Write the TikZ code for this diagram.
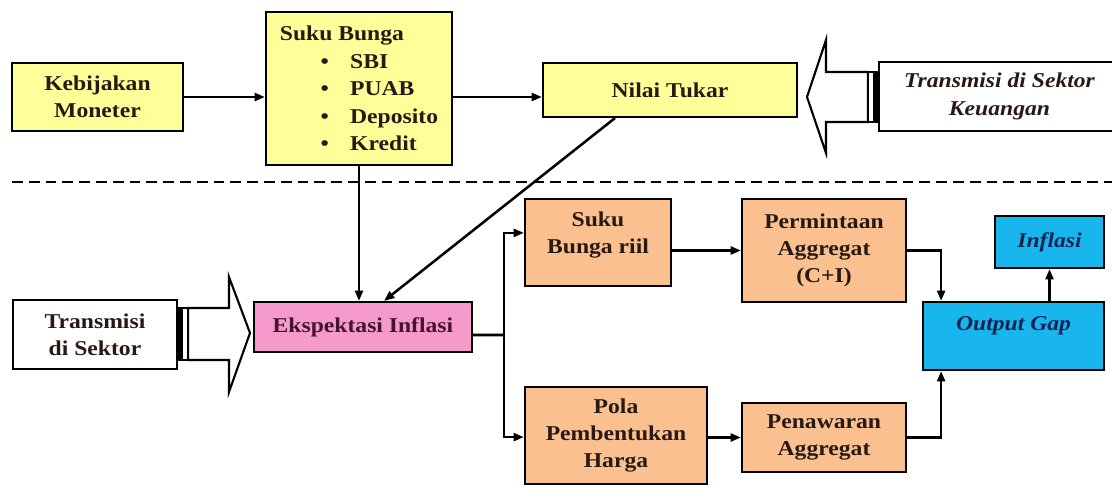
\documentclass[tikz,border=0pt]{standalone}
\usepackage{fontspec}
\setmainfont{Liberation Serif}[FakeStretch=1.12]
\usetikzlibrary{calc}
\usetikzlibrary{arrows.meta}

\definecolor{kuning}{RGB}{255,255,153}
\definecolor{merahmuda}{RGB}{245,154,202}
\definecolor{jingga}{RGB}{250,192,143}
\definecolor{biru}{RGB}{24,182,236}
\definecolor{tekscoklat}{RGB}{40,25,20}
\definecolor{teksungu}{RGB}{70,20,45}
\definecolor{teksbiru}{RGB}{20,35,85}

\tikzset{
  kotak/.style={draw, line width=1.5pt, align=center, inner sep=2pt, text=tekscoklat,
    font=\bfseries\fontsize{15}{19.5}\selectfont},
  miring/.style={font=\bfseries\itshape\fontsize{15}{19.5}\selectfont},
  panah/.style={->, line width=1.8pt},
  pemisah/.style={line width=2pt, dash pattern=on 0.27cm off 0.15cm}
}

\begin{document}
\begin{tikzpicture}[x=0.025cm, y=-0.025cm, >={Stealth[length=0.26cm, width=0.2cm, inset=0pt]}]
        \useasboundingbox (0,0) rectangle (1112,486);
        % sektor keuangan
        \node[kotak, fill=kuning, minimum width=4.275cm, minimum height=1.7cm] (km) at (97.5,97) {Kebijakan\\Moneter};
        \node[kotak, fill=kuning, minimum width=4.65cm, minimum height=3.825cm, align=left] (sb) at (359,88.5)
          {Suku Bunga\\
           \hspace*{29pt}\makebox[21pt][l]{\textbullet}SBI\\
           \hspace*{29pt}\makebox[21pt][l]{\textbullet}PUAB\\
           \hspace*{29pt}\makebox[21pt][l]{\textbullet}Deposito\\
           \hspace*{29pt}\makebox[21pt][l]{\textbullet}Kredit};
        \node[kotak, fill=kuning, minimum width=6.35cm, minimum height=1.35cm] (nt) at (670,90) {Nilai Tukar};
        \node[kotak, miring, fill=white, minimum width=6.025cm, minimum height=1.725cm] (tsk) at (999.5,96.5) {Transmisi di Sektor\\Keuangan};
        \draw[line width=1.5pt, fill=white] (807,97) -- (826,40) -- (826,72) -- (868,72) -- (868,122) -- (826,122) -- (826,153) -- cycle;
        \draw[line width=1.5pt, fill=white] (868,72) rectangle (879,122);
        \fill (873,72) rectangle (879,122);
        \draw[panah] (km.east) -- (sb.west |- km.east);
        \draw[panah] (sb.east |- km.east) -- (nt.west |- km.east);

        \draw[pemisah] (12,182) -- (1112,182);

        % sektor riil
        \node[kotak, fill=white, minimum width=4.1cm, minimum height=1.725cm] (tds) at (95,334.5) {Transmisi\\di Sektor};
        \draw[line width=1.5pt, fill=white] (250,333) -- (229,277) -- (229,308) -- (188,308) -- (188,360) -- (229,360) -- (229,392) -- cycle;
        \draw[line width=1.5pt, fill=white] (177,308) rectangle (188,360);
        \fill (177,308) rectangle (183,360);
        \node[kotak, fill=merahmuda, text=teksungu, minimum width=5.45cm, minimum height=1.25cm] (ei) at (363,327) {Ekspektasi Inflasi};
        \node[kotak, fill=jingga, minimum width=3.65cm, minimum height=2.175cm, text depth=0.5cm] (sbr) at (598,242.5) {Suku\\Bunga riil};
        \node[kotak, fill=jingga, minimum width=4.55cm, minimum height=2.425cm] (ppk) at (616,435.5) {Pola\\Pembentukan\\Harga};
        \node[kotak, fill=jingga, minimum width=4.1cm, minimum height=2.575cm] (pma) at (824,250.5) {Permintaan\\Aggregat\\(C+I)};
        \node[kotak, fill=jingga, minimum width=4.1cm, minimum height=1.725cm] (pwa) at (824,437.5) {Penawaran\\Aggregat};
        \node[kotak, miring, fill=biru, text=teksbiru, minimum width=4.525cm, minimum height=1.7cm, text depth=0.6cm] (og) at (1013.5,336) {Output Gap};
        \node[kotak, miring, fill=biru, text=teksbiru, minimum width=2.725cm, minimum height=1.3cm] (inf) at (1049.5,242) {Inflasi};

        \draw[panah] (sb.south) -- (sb.south |- ei.north);
        \draw[panah] ([xshift=-1.375cm]nt.south) -- ([xshift=0.525cm]ei.north);
        \coordinate (cabang) at (504,335);
        \draw[line width=1.8pt] ([yshift=-0.2cm]ei.east) -- (cabang);
        \draw[panah] (cabang) |- ([yshift=0.24cm]sbr.west);
        \draw[panah] (cabang) |- ([yshift=-0.04cm]ppk.west);
        \draw[panah] (sbr.east |- pma.west) -- (pma.west);
        \draw[panah] (ppk.east |- pwa.west) -- (pwa.west);
        \draw[panah] (pma.east) -| ([xshift=-1.81cm]og.north);
        \draw[panah] (pwa.east) -| ([xshift=-1.81cm]og.south);
        \draw[panah] (og.north -| inf.south) -- (inf.south);
\end{tikzpicture}
\end{document}
